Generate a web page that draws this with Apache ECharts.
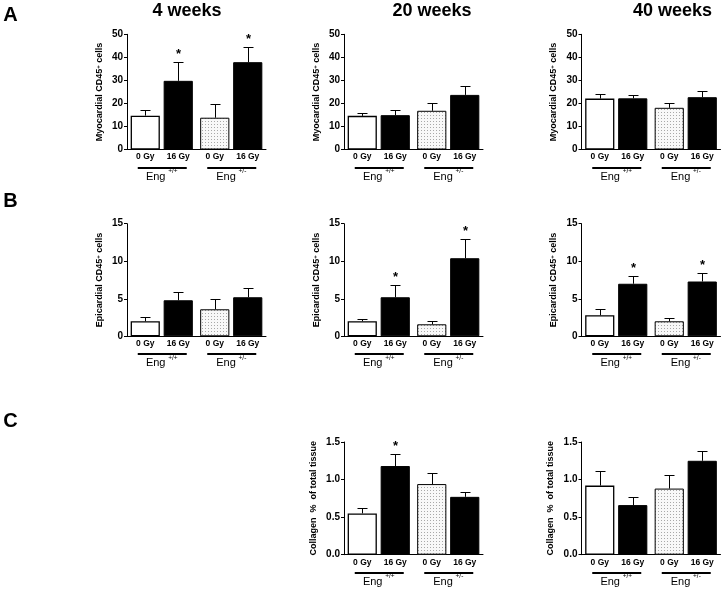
<!DOCTYPE html>
<html><head><meta charset="utf-8">
<script src="https://cdn.jsdelivr.net/npm/echarts@6/dist/echarts.min.js"></script>
<style>html,body{margin:0;padding:0;background:#fff}#c{width:725px;height:592px}</style>
</head><body><div id="c"></div>
<script>
// ---------- data ----------
const weeks = ['4 weeks', '20 weeks', '40 weeks'];
const genotypes = ['+/+', '+/-'];
const doses = ['0 Gy', '16 Gy'];
const rowLetters = ['A', 'B', 'C'];
const rowNames = ['Myocardial CD45{s|+} cells', 'Epicardial CD45{s|+} cells', 'Collagen  %  of total tissue'];
const rowMax = [50, 15, 1.5];
const rowInterval = [10, 5, 0.5];
const rowDecimals = [0, 0, 1];

// Row A: myocardial CD45+ cells, per week [Eng+/+, Eng+/-]
const myoMean0Gy  = [[14.7, 13.8], [14.6, 16.8], [22.1, 18.1]];
const myoSem0Gy   = [[2.3, 6.1], [1.2, 3.3], [1.9, 2.0]];
const myoMean16Gy = [[29.8, 37.9], [14.9, 23.7], [22.2, 22.7]];
const myoSem16Gy  = [[8.0, 6.6], [2.1, 4.0], [1.3, 2.7]];
const myoStar16Gy = [[1, 1], [0, 0], [0, 0]];
// Row B: epicardial CD45+ cells
const epiMean0Gy  = [[2.0, 3.6], [2.0, 1.6], [2.8, 2.0]];
const epiSem0Gy   = [[0.6, 1.4], [0.3, 0.5], [0.8, 0.4]];
const epiMean16Gy = [[4.8, 5.2], [5.2, 10.4], [7.0, 7.3]];
const epiSem16Gy  = [[1.1, 1.2], [1.7, 2.5], [1.0, 1.1]];
const epiStar16Gy = [[0, 0], [1, 1], [1, 1]];
// Row C: collagen % of total tissue (no 4-week panel)
const colMean0Gy  = [null, [0.55, 0.94], [0.92, 0.88]];
const colSem0Gy   = [null, [0.07, 0.15], [0.19, 0.18]];
const colMean16Gy = [null, [1.18, 0.77], [0.66, 1.25]];
const colSem16Gy  = [null, [0.16, 0.07], [0.11, 0.13]];
const colStar16Gy = [null, [1, 0], [0, 0]];

const rows = [
  {m0: myoMean0Gy, s0: myoSem0Gy, m1: myoMean16Gy, s1: myoSem16Gy, st: myoStar16Gy},
  {m0: epiMean0Gy, s0: epiSem0Gy, m1: epiMean16Gy, s1: epiSem16Gy, st: epiStar16Gy},
  {m0: colMean0Gy, s0: colSem0Gy, m1: colMean16Gy, s1: colSem16Gy, st: colStar16Gy}
];

// ---------- layout / style ----------
const FONT = '"Liberation Sans", Arial, sans-serif';
const colLeft = [127, 344, 581.5];
const colCenter = [187, 432, 672.5];
const gridW = 139;
const rowTop = [34.3, 223.7, 442];
const rowH = [115.2, 112.6, 112.7];
const letterY = [15, 201, 421];
const BW = 0.42, GAP = 0.13;

function dotPattern() {
  const cv = document.createElement('canvas');
  cv.width = 3; cv.height = 3;
  const ctx = cv.getContext('2d');
  ctx.fillStyle = '#f8f8f8'; ctx.fillRect(0, 0, 3, 3);
  ctx.fillStyle = '#a8a8a8'; ctx.fillRect(1, 1, 1, 1);
  return cv;
}
const whiteStyle = {color: '#fff', borderColor: '#000', borderWidth: 1.3};
const dottedStyle = {color: {image: dotPattern(), repeat: 'repeat'}, borderColor: '#000', borderWidth: 1};
const blackStyle = {color: '#000', borderColor: '#000', borderWidth: 1};

const grids = [], xAxes = [], yAxes = [], series = [];
const graphics = [];

weeks.forEach((w, c) => {
  graphics.push({type: 'text', x: colCenter[c], y: 11, style: {text: w, align: 'center', verticalAlign: 'middle', font: 'bold 18px ' + FONT, fill: '#000'}});
});
rowLetters.forEach((L, r) => {
  graphics.push({type: 'text', x: 10.5, y: letterY[r], style: {text: L, align: 'center', verticalAlign: 'middle', font: 'bold 20px ' + FONT, fill: '#000'}});
});

let k = 0;
rows.forEach((row, r) => {
  weeks.forEach((w, c) => {
    if (!row.m0[c]) return;
    grids.push({left: colLeft[c], top: rowTop[r], width: gridW, height: rowH[r], containLabel: false});
    xAxes.push({
      gridIndex: k, type: 'category', data: genotypes,
      axisLine: {show: true, lineStyle: {color: '#000', width: 1}},
      axisTick: {show: false},
      axisLabel: {
        interval: 0, margin: 18, color: '#000', fontFamily: FONT, fontSize: 10,
        formatter: v => '{b|Eng} {s|' + v + '}',
        rich: {
          b: {fontSize: 11, lineHeight: 18, fontFamily: FONT, color: '#000'},
          s: {fontSize: 6.5, lineHeight: 6, verticalAlign: 'top', fontFamily: FONT, color: '#000'}
        }
      }
    });
    yAxes.push({
      gridIndex: k, type: 'value', min: 0, max: rowMax[r], interval: rowInterval[r],
      axisLine: {show: true, lineStyle: {color: '#000', width: 1}},
      axisTick: {show: true, length: 3, lineStyle: {color: '#000'}},
      splitLine: {show: false},
      axisLabel: {margin: 4, color: '#000', fontFamily: FONT, fontSize: 10, fontWeight: 'bold',
        formatter: v => v.toFixed(rowDecimals[r])},
      name: rowNames[r], nameLocation: 'middle', nameRotate: 90, nameGap: r === 2 ? 26 : 23,
      nameTextStyle: {
        fontFamily: FONT, fontSize: 9, fontWeight: 'bold', color: '#000',
        rich: {s: {fontSize: 6, fontWeight: 'bold', verticalAlign: 'top', lineHeight: 6, fontFamily: FONT, color: '#000'}}
      }
    });
    const means = [row.m0[c], row.m1[c]];
    const sems = [row.s0[c], row.s1[c]];
    doses.forEach((d, di) => {
      series.push({
        type: 'bar', name: d, xAxisIndex: k, yAxisIndex: k,
        barWidth: (BW * 100) + '%', barGap: (GAP * 100) + '%',
        data: means[di].map((v, gi) => ({value: v, itemStyle: di === 1 ? blackStyle : (gi === 0 ? whiteStyle : dottedStyle)})),
        label: {show: true, position: 'bottom', distance: 3, formatter: d, fontFamily: FONT, fontSize: 8.5, fontWeight: 'bold', color: '#000'},
        animation: false, silent: true
      });
    });
    const ebData = [];
    genotypes.forEach((g, gi) => doses.forEach((d, di) => {
      ebData.push([gi, di, means[di][gi], sems[di][gi], di === 1 ? row.st[c][gi] : 0]);
    }));
    series.push({
      type: 'custom', xAxisIndex: k, yAxisIndex: k, clip: false, z: 5, animation: false, silent: true,
      encode: {x: 0, y: 2},
      data: ebData,
      renderItem: (params, api) => {
        const gi = api.value(0), di = api.value(1), m = api.value(2), s = api.value(3), st = api.value(4);
        const p0 = api.coord([gi, m]);
        const p1 = api.coord([gi, m + s]);
        const band = api.size([1, 0])[0];
        const bw = band * BW, gap = bw * GAP;
        const x = Math.round(p0[0] + (di === 0 ? -1 : 1) * (bw + gap) / 2) + 0.5;
        const yT = Math.round(p1[1]) + 0.5;
        const ch = [
          {type: 'line', shape: {x1: x, y1: p0[1], x2: x, y2: yT}, style: {stroke: '#000', lineWidth: 1}},
          {type: 'line', shape: {x1: x - 5, y1: yT, x2: x + 5, y2: yT}, style: {stroke: '#000', lineWidth: 1}}
        ];
        if (st) ch.push({type: 'text', x: x, y: yT - 2, style: {text: '*', align: 'center', verticalAlign: 'bottom', font: 'bold 13px ' + FONT, fill: '#000'}});
        return {type: 'group', children: ch};
      }
    });
    series.push({
      type: 'custom', xAxisIndex: k, yAxisIndex: k, clip: false, z: 5, animation: false, silent: true,
      encode: {x: 0, y: 1},
      data: genotypes.map((g, gi) => [gi, 0]),
      renderItem: (params, api) => {
        const p = api.coord([api.value(0), 0]);
        const y = Math.round(p[1] + 18);
        return {type: 'line', shape: {x1: p[0] - 24, y1: y, x2: p[0] + 25, y2: y}, style: {stroke: '#000', lineWidth: 2}};
      }
    });
    k++;
  });
});

const chart = echarts.init(document.getElementById('c'), null, {renderer: 'canvas'});
chart.setOption({
  animation: false,
  backgroundColor: '#fff',
  grid: grids, xAxis: xAxes, yAxis: yAxes, series: series,
  graphic: graphics
});
</script></body></html>
